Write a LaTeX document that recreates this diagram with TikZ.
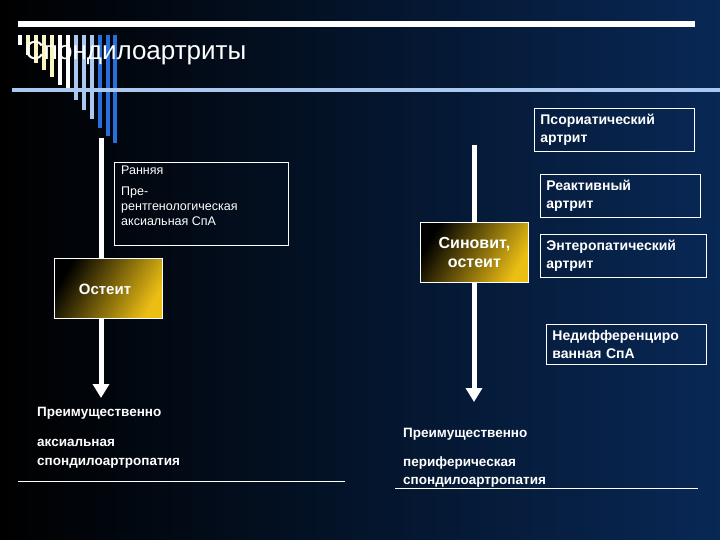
\documentclass[tikz,border=0pt]{standalone}
\usepackage{fontspec}
\setmainfont{Liberation Sans}
\usetikzlibrary{arrows.meta}
\definecolor{goldc}{RGB}{235,190,20}
\definecolor{lb}{RGB}{170,200,240}
\definecolor{mb}{RGB}{40,110,220}
\definecolor{cr}{RGB}{250,245,190}
\begin{document}
\begin{tikzpicture}[x=1pt,y=-1pt,
  box/.style={draw=white,line width=0.8pt,text=white,inner sep=0pt},
  rbox/.style={box,font=\bfseries\fontsize{14}{18}\selectfont,align=left,anchor=north west,inner sep=6pt,text width=#1},
  gold/.style={draw=white,line width=0.8pt,text=white,anchor=north west,left color=black,right color=goldc,shading angle=60},
  arr/.style={white,line width=5pt,-{Triangle[length=14pt,width=16pt]}},
  btxt/.style={text=white,font=\bfseries\fontsize{13.5}{16}\selectfont,anchor=west,inner sep=0pt}]
\fill[left color=black,right color={rgb,255:red,8;green,40;blue,85}] (0,0) rectangle (720,540);
\useasboundingbox (0,0) rectangle (720,540);
% decorative bars
\foreach \x/\b/\c in {18/10/white,26/20/cr,34/28/cr,42/35/cr,50/42/cr,58/50/white,66/57/white,74/65/lb,82/75/lb,90/84/lb,98/93/mb,106/101/mb,113/108/mb}
  \fill[\c] (\x,35) rectangle ++(4,\b);
\fill[white] (18,21) rectangle (695,27);
\fill[lb] (12,88) rectangle (720,92);
\node[text=white,anchor=west,inner sep=0pt,font=\fontsize{26}{30}\selectfont] (title) at (25,53) {Спондилоартриты};
% arrows
\coordinate (la) at (101,138); \coordinate (lb) at (101,398);
\coordinate (ra) at (474,145); \coordinate (rb) at (474,402);
\draw[arr] (la) -- (lb);
\draw[arr] (ra) -- (rb);
% boxes
\node[box,anchor=north west,minimum width=174pt,minimum height=83pt] (early) at (114,162) {};
\node[text=white,anchor=north west,inner sep=0pt,align=left,font=\fontsize{12.5}{15}\selectfont] (earlyt) at (121,166) {Ранняя\\[6pt]Пре-\\рентгенологическая\\аксиальная СпА};
\node[gold,minimum width=108pt,minimum height=60pt] (ost) at (54,258) {};
\node[text=white,font=\bfseries\fontsize{15}{18}\selectfont] (ostt) at (105,289) {Остеит};
\node[gold,minimum width=108pt,minimum height=60pt,align=center,font=\bfseries\fontsize{16}{19}\selectfont] (syn) at (420,222) {Синовит,\\остеит};
\node[rbox=148pt] (ps) at (534,108) {Псориатический\\артрит};
\node[rbox=148pt] (re) at (540,174) {Реактивный\\артрит};
\node[rbox=154pt] (en) at (540,234) {Энтеропатический\\артрит};
\node[rbox=148pt] (un) at (546,324) {Недифференциро\\ванная СпА};
% bottom
\node[btxt] (l1) at (37,413) {Преимущественно};
\node[btxt] (l2) at (37,443) {аксиальная};
\node[btxt] (l3) at (37,463) {спондилоартропатия};
\node[btxt] (r1) at (403,434) {Преимущественно};
\node[btxt] (r2) at (403,463) {периферическая};
\node[btxt] (r3) at (403,482) {спондилоартропатия};
\draw[white,line width=0.8pt] (18,481) -- (345,481);
\draw[white,line width=0.8pt] (395,488) -- (698,488);
\end{tikzpicture}
\end{document}
